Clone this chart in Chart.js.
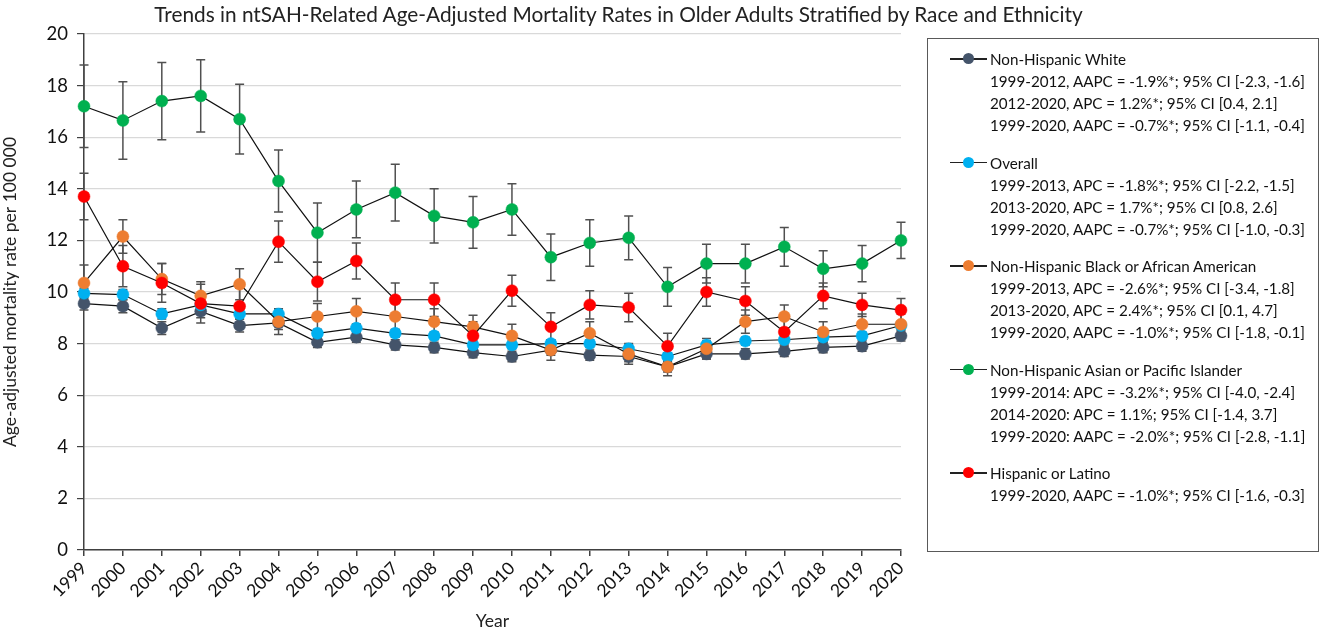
<!DOCTYPE html>
<html>
<head>
<meta charset="utf-8">
<script src="https://cdn.jsdelivr.net/npm/chart.js@4.4.1/dist/chart.umd.min.js"></script>
<style>
  body { margin: 0; background: #fff; font-family: Lato, "Noto Sans", sans-serif; }
  #wrap { position: relative; width: 1325px; height: 640px; }
  #title { position: absolute; left: 0; width: 1237px; top: 1px; text-align: center; font-size: 20.8px; color: #222; }
  #legend { position: absolute; left: 927px; top: 38px; width: 392px; height: 514px; border: 1.5px solid #595959; box-sizing: border-box; }
  .item { position: absolute; left: 62px; font-size: 15.2px; line-height: 22px; color: #111; }
  .mark { position: absolute; left: -40px; top: 10px; width: 37px; height: 1.5px; background: #222; }
  .mark span { position: absolute; left: 13px; top: -5px; width: 11px; height: 11px; border-radius: 50%; }
</style>
</head>
<body>
<div id="wrap">
  <canvas id="chart" width="1325" height="640"></canvas>
  <div id="title">Trends in ntSAH-Related Age-Adjusted Mortality Rates in Older Adults Stratified by Race and Ethnicity</div>
  <div id="legend"></div>
</div>
<script>
const years = ["1999","2000","2001","2002","2003","2004","2005","2006","2007","2008","2009","2010","2011","2012","2013","2014","2015","2016","2017","2018","2019","2020"];

const white = [9.55, 9.45, 8.6, 9.25, 8.7, 8.8, 8.05, 8.25, 7.95, 7.85, 7.65, 7.5, 7.75, 7.55, 7.5, 7.1, 7.6, 7.6, 7.7, 7.85, 7.9, 8.3];
const whiteErr = [0.25, 0.25, 0.25, 0.25, 0.25, 0.25, 0.2, 0.2, 0.2, 0.2, 0.2, 0.2, 0.2, 0.2, 0.2, 0.2, 0.2, 0.2, 0.2, 0.2, 0.2, 0.2];
const overall = [9.95, 9.9, 9.15, 9.5, 9.15, 9.15, 8.4, 8.6, 8.4, 8.3, 7.95, 7.95, 8.0, 8.0, 7.8, 7.5, 7.95, 8.1, 8.15, 8.25, 8.3, 8.7];
const overallErr = [0.2, 0.2, 0.2, 0.2, 0.2, 0.2, 0.15, 0.15, 0.15, 0.15, 0.15, 0.15, 0.15, 0.15, 0.15, 0.15, 0.15, 0.15, 0.15, 0.15, 0.15, 0.15];
const black = [10.35, 12.15, 10.5, 9.85, 10.3, 8.85, 9.05, 9.25, 9.05, 8.85, 8.65, 8.3, 7.75, 8.4, 7.6, 7.1, 7.8, 8.85, 9.05, 8.45, 8.75, 8.75];
const blackErr = [0.7, 0.65, 0.6, 0.55, 0.6, 0.5, 0.5, 0.5, 0.5, 0.5, 0.45, 0.45, 0.4, 0.45, 0.4, 0.35, 0.4, 0.45, 0.45, 0.4, 0.4, 0.4];
const asian = [17.2, 16.65, 17.4, 17.6, 16.7, 14.3, 12.3, 13.2, 13.85, 12.95, 12.7, 13.2, 11.35, 11.9, 12.1, 10.2, 11.1, 11.1, 11.75, 10.9, 11.1, 12.0];
const asianErr = [1.6, 1.5, 1.5, 1.4, 1.35, 1.2, 1.15, 1.1, 1.1, 1.05, 1.0, 1.0, 0.9, 0.9, 0.85, 0.75, 0.75, 0.75, 0.75, 0.7, 0.7, 0.7];
const hispanic = [13.7, 11.0, 10.35, 9.55, 9.45, 11.95, 10.4, 11.2, 9.7, 9.7, 8.3, 10.05, 8.65, 9.5, 9.4, 7.9, 10.0, 9.65, 8.45, 9.85, 9.5, 9.3];
const hispanicErr = [0.9, 0.8, 0.75, 0.75, 0.7, 0.8, 0.75, 0.7, 0.65, 0.65, 0.55, 0.6, 0.55, 0.55, 0.55, 0.5, 0.55, 0.55, 0.5, 0.5, 0.45, 0.45];

const names = ["Non-Hispanic White", "Overall", "Non-Hispanic Black or African American", "Non-Hispanic Asian or Pacific Islander", "Hispanic or Latino"];
const colors = ["#44546a", "#00b0f0", "#ed7d31", "#00b050", "#ff0000"];
const series = [white, overall, black, asian, hispanic];
const errors = [whiteErr, overallErr, blackErr, asianErr, hispanicErr];
const notes = [
    ["1999-2012, AAPC = -1.9%*; 95% CI [-2.3, -1.6]", "2012-2020, APC = 1.2%*; 95% CI [0.4, 2.1]", "1999-2020, AAPC = -0.7%*; 95% CI [-1.1, -0.4]"],
    ["1999-2013, APC = -1.8%*; 95% CI [-2.2, -1.5]", "2013-2020, APC = 1.7%*; 95% CI [0.8, 2.6]", "1999-2020, AAPC = -0.7%*; 95% CI [-1.0, -0.3]"],
    ["1999-2013, APC = -2.6%*; 95% CI [-3.4, -1.8]", "2013-2020, APC = 2.4%*; 95% CI [0.1, 4.7]", "1999-2020, AAPC = -1.0%*; 95% CI [-1.8, -0.1]"],
    ["1999-2014: APC = -3.2%*; 95% CI [-4.0, -2.4]", "2014-2020: APC = 1.1%; 95% CI [-1.4, 3.7]", "1999-2020: AAPC = -2.0%*; 95% CI [-2.8, -1.1]"],
    ["1999-2020, AAPC = -1.0%*; 95% CI [-1.6, -0.3]"]
];

// legend box (html)
const legend = document.getElementById("legend");
names.forEach((n, i) => {
    const div = document.createElement("div");
    div.className = "item";
    div.style.top = (9 + i * 103.5) + "px";
    div.innerHTML = `<div class="mark"><span style="background:${colors[i]}"></span></div>` +
        [n].concat(notes[i]).join("<br>");
    legend.appendChild(div);
});

const errorBars = {
    id: "errorBars",
    beforeDatasetsDraw(chart) {
        const ctx = chart.ctx;
        const x = chart.scales.x, y = chart.scales.y;
        ctx.save();
        ctx.strokeStyle = "#505050";
        ctx.lineWidth = 1.5;
        series.forEach((vals, s) => {
            vals.forEach((v, i) => {
                const px = x.getPixelForValue(i);
                const top = y.getPixelForValue(v + errors[s][i]);
                const bot = y.getPixelForValue(v - errors[s][i]);
                ctx.beginPath();
                ctx.moveTo(px, top); ctx.lineTo(px, bot);
                ctx.moveTo(px - 4.5, top); ctx.lineTo(px + 4.5, top);
                ctx.moveTo(px - 4.5, bot); ctx.lineTo(px + 4.5, bot);
                ctx.stroke();
            });
        });
        ctx.restore();
    }
};

const font = "Lato, 'Noto Sans', sans-serif";
new Chart(document.getElementById("chart"), {
    type: "line",
    data: {
        labels: years,
        datasets: series.map((vals, i) => ({
            label: names[i],
            data: vals,
            borderColor: "#111",
            borderWidth: 1.2,
            pointBackgroundColor: colors[i],
            pointBorderColor: colors[i],
            pointBorderWidth: 0.5,
            pointRadius: 6,
            tension: 0,
            clip: false,
            order: 4 - i
        }))
    },
    options: {
        responsive: false,
        animation: false,
        layout: { padding: { top: 34, right: 424, left: 0, bottom: 0 } },
        plugins: { legend: { display: false }, tooltip: { enabled: false } },
        scales: {
            x: {
                offset: false,
                grid: { drawOnChartArea: false, tickLength: 6, tickColor: "#404040", lineWidth: 1.5 },
                border: { color: "#404040", width: 1.5 },
                ticks: { color: "#111", font: { size: 17.5, family: font }, maxRotation: 45, minRotation: 45, padding: 2 },
                title: { display: true, text: "Year", color: "#222", font: { size: 17.5, family: font }, padding: { top: 0, bottom: 8 } },
                afterFit: s => { s.height = 90; }
            },
            y: {
                min: 0, max: 20,
                ticks: { stepSize: 2, color: "#111", font: { size: 18.5, family: font }, padding: 9 },
                grid: { color: "#d9d9d9", lineWidth: 1.2, tickLength: 7, tickColor: "#404040" },
                border: { color: "#404040", width: 1.5 },
                title: { display: true, text: "Age-adjusted mortality rate per 100 000", color: "#222", font: { size: 17.5, family: font }, padding: { top: 0, bottom: 2 } },
                afterFit: s => { s.width = 84; }
            }
        }
    },
    plugins: [errorBars]
});
</script>
</body>
</html>
